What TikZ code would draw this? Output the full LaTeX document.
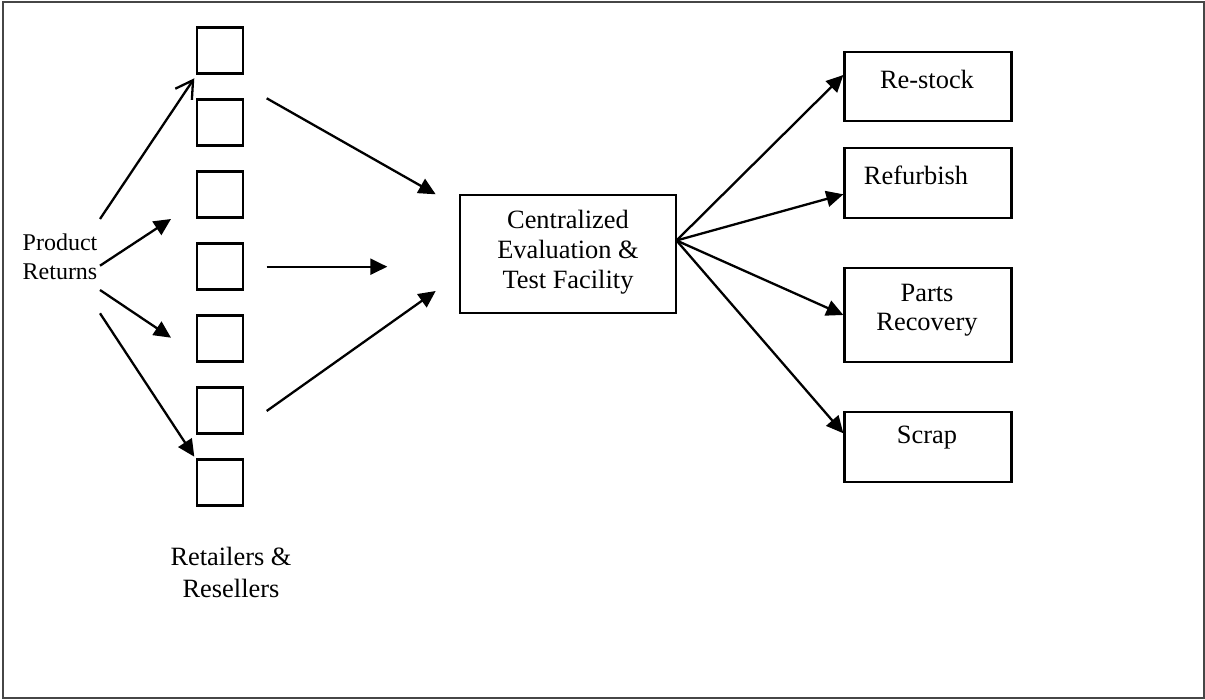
\documentclass[tikz,border=0pt]{standalone}
\usepackage{fontspec}
\setmainfont{Liberation Serif}
\usetikzlibrary{arrows.meta}
\definecolor{framegray}{RGB}{70,70,70}
\begin{document}
\begin{tikzpicture}[x=1pt,y=-1pt,
  box/.style={draw=black,line width=2.3pt,inner sep=0pt},
  small/.style={box,minimum width=46pt,minimum height=46pt},
  outbox/.style={box,minimum width=167pt},
  txt/.style={font=\fontsize{26.4}{30}\selectfont,align=center,inner sep=0pt},
  conn/.style={line width=2.3pt,-{Triangle[length=17pt,width=16pt]}},
  openconn/.style={line width=2.3pt,-{Straight Barb[length=17pt,width=20pt]}}]
\useasboundingbox (0,0) rectangle (1205,700);
\draw[framegray,line width=2pt] (2.5,2.5) rectangle (1203.5,698);

% retailer boxes
\foreach \i/\y in {1/50.5,2/122.5,3/194.5,4/266.5,5/338.5,6/410.5,7/482.5}
  \node[small] (r\i) at (220,\y) {};

% texts
\node[txt,font=\fontsize{24}{29}\selectfont] (pr) at (60,257) {Product\\Returns};
\node[txt,font=\fontsize{26.4}{31.6}\selectfont] (rr) at (231,572.5) {Retailers \&\\Resellers};

% center box
\node[box,minimum width=215.4pt,minimum height=118pt] (cf) at (568,254.3) {};
\node[txt] (cft) at (568,252) {Centralized\\Evaluation \&\\Test Facility};

% output boxes
\node[outbox,minimum height=69.6pt] (rs) at (928,86.5) {};
\node[txt] (rst) at (927,79.3) {Re-stock};
\node[outbox,minimum height=70pt] (rf) at (928,182.7) {};
\node[txt] (rft) at (916,175) {Refurbish};
\node[outbox,minimum height=94pt] (pa) at (928,314.7) {};
\node[txt,font=\fontsize{26.4}{29.3}\selectfont] (pat) at (927,310) {Parts\\Recovery};
\node[outbox,minimum height=70pt] (sc) at (928,446.7) {};
\node[txt] (sct) at (927,437.5) {Scrap};

% product returns arrows
\coordinate (pa1) at (100,219);
\coordinate (pa2) at (100,265.7);
\coordinate (pa3) at (100,290);
\coordinate (pa4) at (100,313.3);
\coordinate (pt1) at (194.3,78.3);
\coordinate (pt2) at (171,219);
\coordinate (pt3) at (171,337.7);
\coordinate (pt4) at (194.3,456.7);
\draw[openconn] (pa1) -- (pt1);
\draw[conn] (pa2) -- (pt2);
\draw[conn] (pa3) -- (pt3);
\draw[conn] (pa4) -- (pt4);

% retailers to center
\coordinate (ca1) at (266.7,98.3);
\coordinate (ca2) at (266.7,266.7);
\coordinate (ca3) at (266.7,411);
\coordinate (ct1) at (435.7,194.3);
\coordinate (ct2) at (387.3,266.7);
\coordinate (ct3) at (435.7,291);
\draw[conn] (ca1) -- (ct1);
\draw[conn] (ca2) -- (ct2);
\draw[conn] (ca3) -- (ct3);

% center to outputs
\coordinate (cs) at (676.5,240.5);
\draw[conn] (cs) -- (rs.west |- 0,75);
\draw[conn] (cs) -- (rf.west |- 0,194.3);
\draw[conn] (cs) -- (pa.west |- 0,315);
\draw[conn] (cs) -- (sc.west |- 0,433.3);
\end{tikzpicture}
\end{document}
